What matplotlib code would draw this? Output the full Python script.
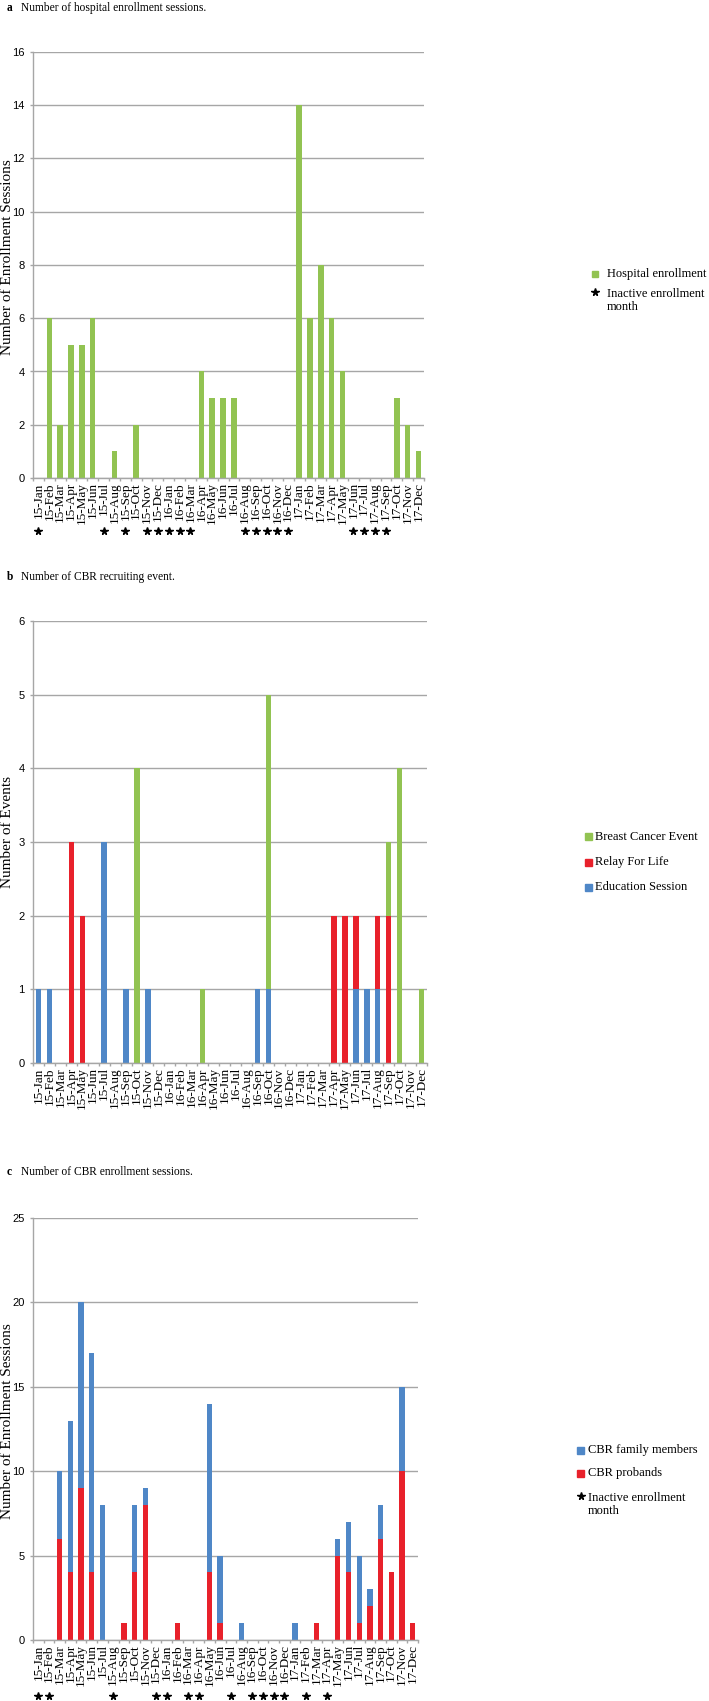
import matplotlib
matplotlib.use("Agg")
import matplotlib.pyplot as plt
import matplotlib.transforms as mtrans
from matplotlib.patches import Rectangle
from matplotlib.lines import Line2D

### data
years = ["15", "16", "17"]
month_names = ["Jan", "Feb", "Mar", "Apr", "May", "Jun", "Jul", "Aug", "Sep", "Oct", "Nov", "Dec"]
months = [y + "-" + m for y in years for m in month_names]

# panel a
hospital = [0, 6, 2, 5, 5, 6, 0, 1, 0, 2, 0, 0,
            0, 0, 0, 4, 3, 3, 3, 0, 0, 0, 0, 0,
            14, 6, 8, 6, 4, 0, 0, 0, 0, 3, 2, 1]
hospital_inactive = ["15-Jan", "15-Jul", "15-Sep", "15-Nov", "15-Dec", "16-Jan", "16-Feb", "16-Mar",
                     "16-Aug", "16-Sep", "16-Oct", "16-Nov", "16-Dec", "17-Jun", "17-Jul", "17-Aug", "17-Sep"]

# panel b
education = [1, 1, 0, 0, 0, 0, 3, 0, 1, 0, 1, 0,
             0, 0, 0, 0, 0, 0, 0, 0, 1, 1, 0, 0,
             0, 0, 0, 0, 0, 1, 1, 1, 0, 0, 0, 0]
relay = [0, 0, 0, 3, 2, 0, 0, 0, 0, 0, 0, 0,
         0, 0, 0, 0, 0, 0, 0, 0, 0, 0, 0, 0,
         0, 0, 0, 2, 2, 1, 0, 1, 2, 0, 0, 0]
breast = [0, 0, 0, 0, 0, 0, 0, 0, 0, 4, 0, 0,
          0, 0, 0, 1, 0, 0, 0, 0, 0, 4, 0, 0,
          0, 0, 0, 0, 0, 0, 0, 0, 1, 4, 0, 1]

# panel c
probands = [0, 0, 6, 4, 9, 4, 0, 0, 1, 4, 8, 0,
            0, 1, 0, 0, 4, 1, 0, 0, 0, 0, 0, 0,
            0, 0, 1, 0, 5, 4, 1, 2, 6, 4, 10, 1]
family = [0, 0, 4, 9, 11, 13, 8, 0, 0, 4, 1, 0,
          0, 0, 0, 0, 10, 4, 0, 1, 0, 0, 0, 0,
          1, 0, 0, 0, 1, 3, 4, 1, 2, 0, 5, 0]
cbr_inactive = ["15-Jan", "15-Feb", "15-Aug", "15-Dec", "16-Jan", "16-Mar", "16-Apr", "16-Jul",
                "16-Sep", "16-Oct", "16-Nov", "16-Dec", "17-Feb", "17-Apr"]

### style
green = "#92C352"
red = "#E8212B"
blue = "#4F87C7"
grid_col = "#A6A6A6"
serif = ["Liberation Serif", "DejaVu Serif"]
narrow = ["Liberation Sans Narrow", "Liberation Sans", "DejaVu Sans"]

W, H = 709, 1701
fig = plt.figure(figsize=(W / 100, H / 100), dpi=100)


def fx(px):
    return px / W


def fy(py):
    return 1 - py / H


def px_axes(left, top, right, bottom):
    # axes from pixel box (top-left origin)
    return fig.add_axes([fx(left), fy(bottom), (right - left) / W, (bottom - top) / H])


def style_axes(ax, ymax, ystep):
    n = len(months)
    ax.set_xlim(-0.5, n - 0.5)
    ax.set_ylim(0, ymax)
    ax.set_yticks(range(0, ymax + 1, ystep))
    ax.set_yticklabels([str(v) for v in range(0, ymax + 1, ystep)], family=narrow, fontsize=8)
    ax.set_xticks(range(n))
    ax.set_xticklabels(months, rotation=90, family=serif, fontsize=9.5)
    ax.set_xticks([i - 0.5 for i in range(n + 1)], minor=True)
    ax.tick_params(axis="x", which="major", length=0, pad=3)
    ax.tick_params(axis="x", which="minor", length=2.5, color=grid_col, width=1)
    ax.tick_params(axis="y", length=2, color=grid_col, width=1, pad=4)
    ax.grid(axis="y", color=grid_col, linewidth=1.0)
    ax.set_axisbelow(True)
    for s in ["top", "right"]:
        ax.spines[s].set_visible(False)
    for s in ["left", "bottom"]:
        ax.spines[s].set_color(grid_col)
        ax.spines[s].set_linewidth(1.0)


def add_stars(ax, labels, ypix):
    tr = mtrans.blended_transform_factory(ax.transData, fig.transFigure)
    xs = [months.index(m) for m in labels]
    ax.plot(xs, [fy(ypix)] * len(xs), linestyle="none", marker="*", color="black",
            markersize=5.5, transform=tr, clip_on=False)


def add_title(letter, text, ypix):
    fig.text(fx(7), fy(ypix), letter, family=serif, fontweight="bold", fontsize=8.3, va="center")
    fig.text(fx(21), fy(ypix), text, family=serif, fontsize=8.3, va="center")


def add_ylabel(text, ycenter):
    fig.text(fx(8), fy(ycenter), text, family=serif, fontsize=11, rotation=90,
             ha="center", va="center")


def legend_entry(xm, ypix, xt, text, color=None, size=7):
    # square (or star when color is None) marker followed by text
    if color is None:
        fig.add_artist(Line2D([fx(xm + size / 2)], [fy(ypix - 1)], linestyle="none", marker="*",
                              color="black", markersize=5.5, transform=fig.transFigure))
        ytxt = ypix + 7.5 if "\n" in text else ypix
    else:
        fig.add_artist(Rectangle((fx(xm), fy(ypix + size / 2)), size / W, size / H,
                                 color=color, transform=fig.transFigure))
        ytxt = ypix
    fig.text(fx(xt), fy(ytxt), text, family=serif, fontsize=9, va="center", ha="left",
             linespacing=1.2)


x = list(range(len(months)))
bw = 0.5

# ---- panel a
ax1 = px_axes(33, 52, 424, 478)
ax1.bar(x, hospital, width=bw, color=green)
style_axes(ax1, 16, 2)
add_stars(ax1, hospital_inactive, 531)
add_title("a", "Number of hospital enrollment sessions.", 8)
add_ylabel("Number of Enrollment Sessions", 257)
legend_entry(592, 274, 607, "Hospital enrollment", green, size=6)
legend_entry(592, 293, 607, "Inactive enrollment\nmonth", None, size=6)

# ---- panel b
ax2 = px_axes(33, 621, 427, 1063)
ax2.bar(x, education, width=bw, color=blue)
ax2.bar(x, relay, width=bw, bottom=education, color=red)
bottom_b = [e + r for e, r in zip(education, relay)]
ax2.bar(x, breast, width=bw, bottom=bottom_b, color=green)
style_axes(ax2, 6, 1)
add_title("b", "Number of CBR recruiting event.", 577)
add_ylabel("Number of Events", 832)
legend_entry(585, 837, 595, "Breast Cancer Event", green)
legend_entry(585, 862, 595, "Relay For Life", red)
legend_entry(585, 887, 595, "Education Session", blue)

# ---- panel c
ax3 = px_axes(33, 1218, 418, 1640)
ax3.bar(x, probands, width=bw, color=red)
ax3.bar(x, family, width=bw, bottom=probands, color=blue)
style_axes(ax3, 25, 5)
add_stars(ax3, cbr_inactive, 1696)
add_title("c", "Number of CBR enrollment sessions.", 1172)
add_ylabel("Number of Enrollment Sessions", 1421)
legend_entry(577, 1450, 588, "CBR family members", blue)
legend_entry(577, 1473, 588, "CBR probands", red)
legend_entry(577, 1497, 588, "Inactive enrollment\nmonth", None)

fig.savefig("out.png", dpi=100)
